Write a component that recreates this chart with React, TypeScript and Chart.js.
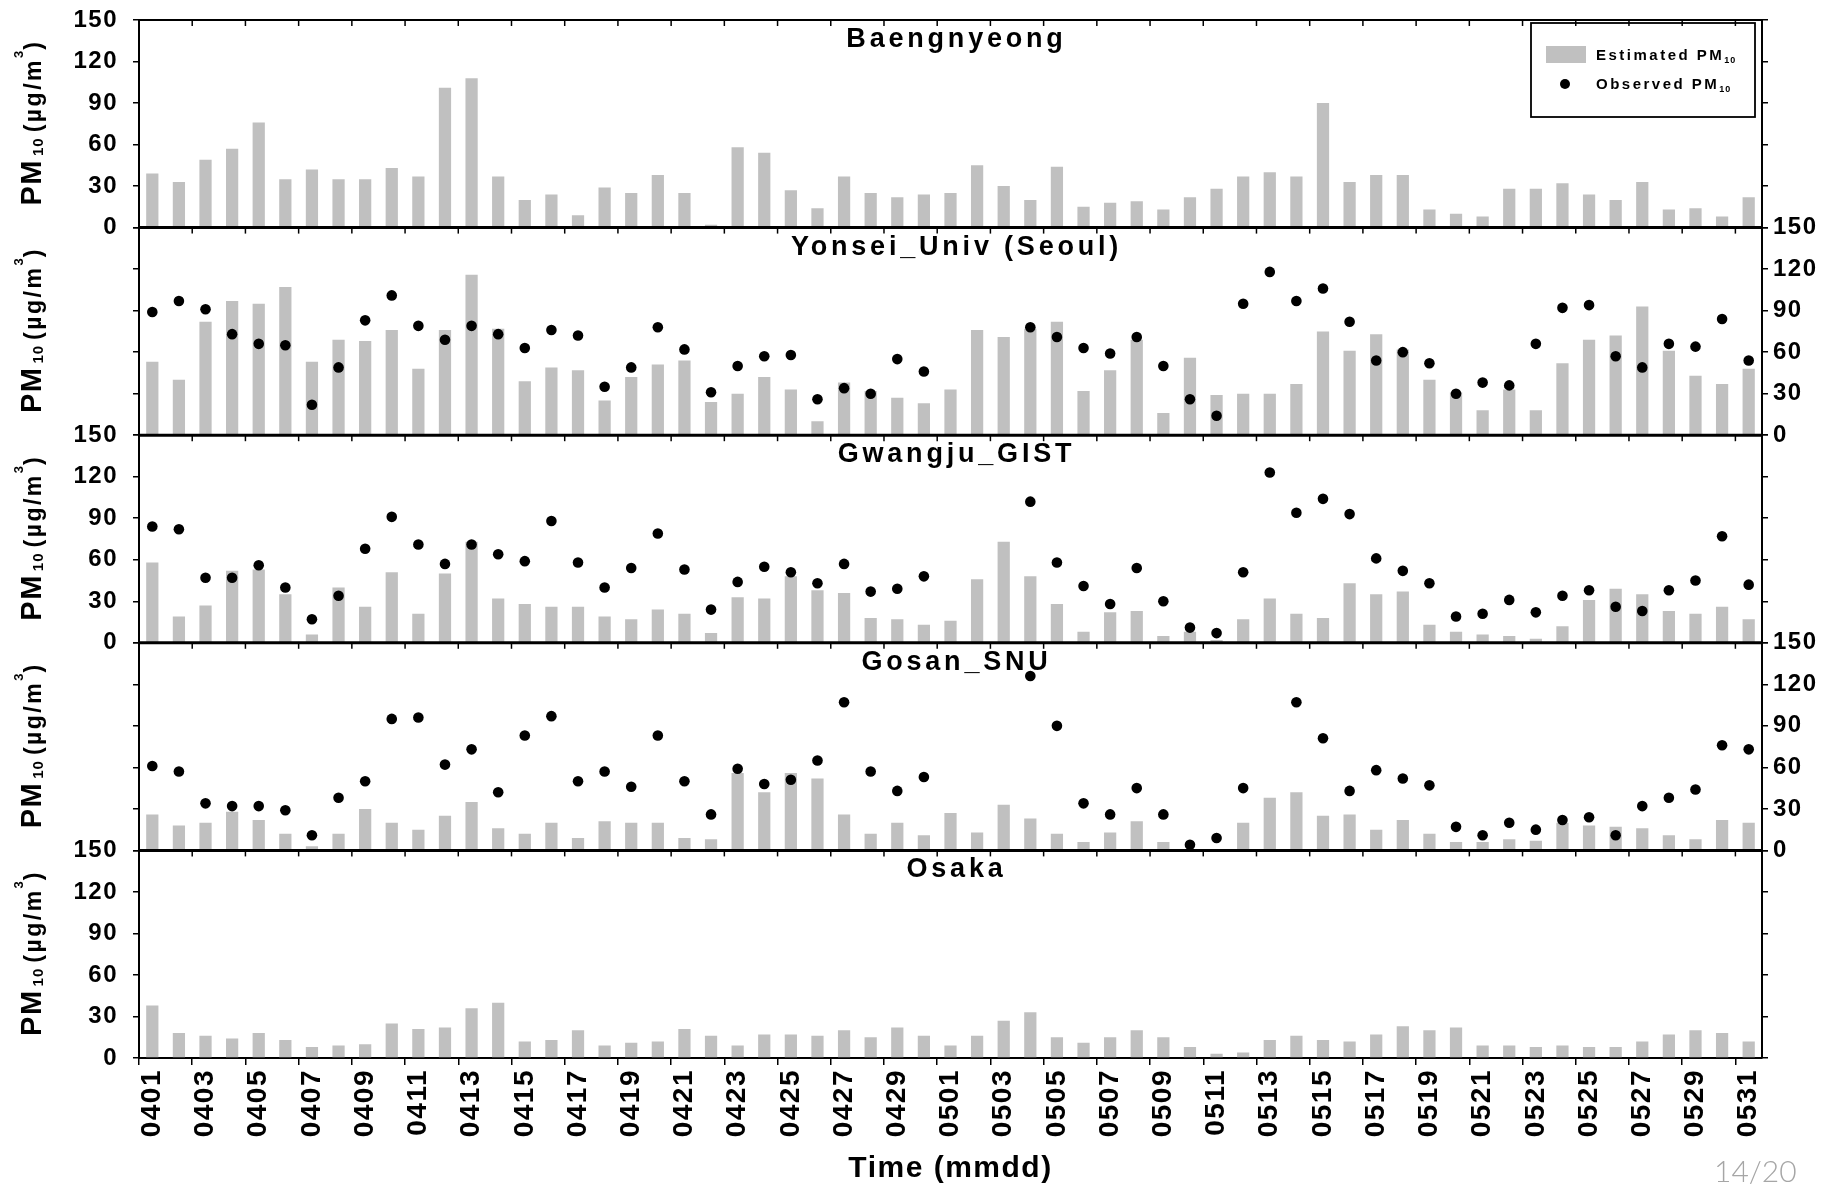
import React, { useEffect, useRef } from 'react';
import { Chart, registerables } from 'chart.js';

Chart.register(...registerables);

// ---------------- data ----------------
const dateLabels = [
  '0401', '0402', '0403', '0404', '0405', '0406', '0407', '0408', '0409', '0410',
  '0411', '0412', '0413', '0414', '0415', '0416', '0417', '0418', '0419', '0420',
  '0421', '0422', '0423', '0424', '0425', '0426', '0427', '0428', '0429', '0430',
  '0501', '0502', '0503', '0504', '0505', '0506', '0507', '0508', '0509', '0510',
  '0511', '0512', '0513', '0514', '0515', '0516', '0517', '0518', '0519', '0520',
  '0521', '0522', '0523', '0524', '0525', '0526', '0527', '0528', '0529', '0530',
  '0531',
];

const baengnyeongEstimated = [
  39, 33, 49, 57, 76, 35, 42, 35, 35, 43,
  37, 101, 108, 37, 20, 24, 9, 29, 25, 38,
  25, 2, 58, 54, 27, 14, 37, 25, 22, 24,
  25, 45, 30, 20, 44, 15, 18, 19, 13, 22,
  28, 37, 40, 37, 90, 33, 38, 38, 13, 10,
  8, 28, 28, 32, 24, 20, 33, 13, 14, 8,
  22,
];

const yonseiEstimated = [
  53, 40, 82, 97, 95, 107, 53, 69, 68, 76,
  48, 76, 116, 77, 39, 49, 47, 25, 42, 51,
  54, 24, 30, 42, 33, 10, 38, 32, 27, 23,
  33, 76, 71, 77, 82, 32, 47, 69, 16, 56,
  29, 30, 30, 37, 75, 61, 73, 62, 40, 31,
  18, 33, 18, 52, 69, 72, 93, 61, 43, 37,
  48,
];

const yonseiObserved = [
  89, 97, 91, 73, 66, 65, 22, 49, 83, 101,
  79, 69, 79, 73, 63, 76, 72, 35, 49, 78,
  62, 31, 50, 57, 58, 26, 34, 30, 55, 46,
  null, null, null, 78, 71, 63, 59, 71, 50, 26,
  14, 95, 118, 97, 106, 82, 54, 60, 52, 30,
  38, 36, 66, 92, 94, 57, 49, 66, 64, 84,
  54,
];

const gwangjuEstimated = [
  58, 19, 27, 52, 53, 35, 6, 40, 26, 51,
  21, 50, 73, 32, 28, 26, 26, 19, 17, 24,
  21, 7, 33, 32, 48, 38, 36, 18, 17, 13,
  16, 46, 73, 48, 28, 8, 22, 23, 5, 8,
  2, 17, 32, 21, 18, 43, 35, 37, 13, 8,
  6, 5, 3, 12, 31, 39, 35, 23, 21, 26,
  17,
];

const gwangjuObserved = [
  84, 82, 47, 47, 56, 40, 17, 34, 68, 91,
  71, 57, 71, 64, 59, 88, 58, 40, 54, 79,
  53, 24, 44, 55, 51, 43, 57, 37, 39, 48,
  null, null, null, 102, 58, 41, 28, 54, 30, 11,
  7, 51, 123, 94, 104, 93, 61, 52, 43, 19,
  21, 31, 22, 34, 38, 26, 23, 38, 45, 77,
  42,
];

const gosanEstimated = [
  26, 18, 20, 28, 22, 12, 3, 12, 30, 20,
  15, 25, 35, 16, 12, 20, 9, 21, 20, 20,
  9, 8, 56, 42, 56, 52, 26, 12, 20, 11,
  27, 13, 33, 23, 12, 6, 13, 21, 6, 1,
  1, 20, 38, 42, 25, 26, 15, 22, 12, 6,
  6, 8, 7, 20, 18, 17, 16, 11, 8, 22,
  20,
];

const gosanObserved = [
  61, 57, 34, 32, 32, 29, 11, 38, 50, 95,
  96, 62, 73, 42, 83, 97, 50, 57, 46, 83,
  50, 26, 59, 48, 51, 65, 107, 57, 43, 53,
  null, null, null, 126, 90, 34, 26, 45, 26, 4,
  9, 45, null, 107, 81, 43, 58, 52, 47, 17,
  11, 20, 15, 22, 24, 11, 32, 38, 44, 76,
  73,
];

const osakaEstimated = [
  38, 18, 16, 14, 18, 13, 8, 9, 10, 25,
  21, 22, 36, 40, 12, 13, 20, 9, 11, 12,
  21, 16, 9, 17, 17, 16, 20, 15, 22, 16,
  9, 16, 27, 33, 15, 11, 15, 20, 15, 8,
  3, 4, 13, 16, 13, 12, 17, 23, 20, 22,
  9, 9, 8, 9, 8, 8, 12, 17, 20, 18,
  12,
];

const panelTitles = ['Baengnyeong', 'Yonsei_Univ (Seoul)', 'Gwangju_GIST', 'Gosan_SNU', 'Osaka'];
const estimatedByPanel = [baengnyeongEstimated, yonseiEstimated, gwangjuEstimated, gosanEstimated, osakaEstimated];
const observedByPanel = [null, yonseiObserved, gwangjuObserved, gosanObserved, null];

const yMin = 0;
const yMax = 150;
const yStep = 30;
const xTitle = 'Time (mmdd)';
const legendEstimated = 'Estimated PM';
const legendObserved = 'Observed PM';
const pageNumber = '14/20';

const FONT = "'Liberation Sans', Arial, Helvetica, sans-serif";
const BAR_GRAY = '#c0c0c0';

// ---------------- drawing helpers ----------------
function line(ctx: CanvasRenderingContext2D, x1: number, y1: number, x2: number, y2: number) {
  ctx.beginPath();
  ctx.moveTo(x1, y1);
  ctx.lineTo(x2, y2);
  ctx.stroke();
}

function setFont(ctx: any, size: number, spacing: number) {
  ctx.font = `bold ${size}px ${FONT}`;
  ctx.letterSpacing = `${spacing}px`;
}

function drawYTitle(ctx: any, cx: number, cy: number) {
  const pieces = [
    { t: 'PM', size: 29, sp: 1.5, dy: 0, gap: 3 },
    { t: '10', size: 15, sp: 1, dy: 2, gap: 5 },
    { t: '(\u00b5g/m', size: 23, sp: 2.5, dy: 0, gap: 0 },
    { t: '3', size: 13, sp: 0, dy: -18, gap: 1 },
    { t: ')', size: 23, sp: 0, dy: 0, gap: 0 },
  ];
  let total = 0;
  const widths: number[] = [];
  for (const p of pieces) {
    setFont(ctx, p.size, p.sp);
    const w = ctx.measureText(p.t).width;
    widths.push(w);
    total += w + p.gap;
  }
  ctx.save();
  ctx.translate(cx, cy);
  ctx.rotate(-Math.PI / 2);
  ctx.textAlign = 'left';
  ctx.textBaseline = 'alphabetic';
  ctx.fillStyle = '#000';
  let x = -total / 2;
  pieces.forEach((p, i) => {
    setFont(ctx, p.size, p.sp);
    ctx.fillText(p.t, x, p.dy);
    x += widths[i] + p.gap;
  });
  ctx.restore();
}

const decorPlugin = {
  id: 'decor',
  beforeLayout(chart: any) {
    chart.ctx.letterSpacing = '1.5px';
  },
  beforeDraw(chart: any) {
    chart.ctx.letterSpacing = '1.5px';
  },
  afterDraw(chart: any) {
    const { ctx, chartArea } = chart;
    const xs = chart.scales.x;
    const half = (xs.getPixelForValue(1) - xs.getPixelForValue(0)) / 2;
    ctx.save();
    ctx.strokeStyle = '#000';
    ctx.fillStyle = '#000';

    for (let p = 0; p < panelTitles.length; p++) {
      const s = chart.scales['y' + p];
      // panel top frame line
      ctx.lineWidth = p === 0 ? 2 : 3;
      line(ctx, chartArea.left - 1, s.top, chartArea.right + 1, s.top);
      // inward tick marks along the top of each panel
      ctx.lineWidth = 1.5;
      for (let i = 2; i < dateLabels.length; i += 2) {
        const x = xs.getPixelForValue(i) - half;
        line(ctx, x, s.top, x, s.top + 6);
      }
      // panel title
      setFont(ctx, 27, 3.8);
      ctx.textAlign = 'center';
      ctx.textBaseline = 'alphabetic';
      ctx.fillText(panelTitles[p], (chartArea.left + chartArea.right) / 2 + 6, s.top + 27);
      // y axis title
      drawYTitle(ctx, 40.5, (s.top + s.bottom) / 2);
    }

    // legend in first panel
    const L = chartArea.right;
    const T = chartArea.top;
    ctx.lineWidth = 1.8;
    ctx.strokeRect(L - 231, T + 3, 224, 94);
    ctx.fillStyle = BAR_GRAY;
    ctx.fillRect(L - 216, T + 26, 40, 17);
    ctx.fillStyle = '#000';
    ctx.beginPath();
    ctx.arc(L - 197, T + 64, 5, 0, Math.PI * 2);
    ctx.fill();
    ctx.textAlign = 'left';
    ctx.textBaseline = 'alphabetic';
    const legendRows = [
      { t: legendEstimated, y: T + 40 },
      { t: legendObserved, y: T + 68.5 },
    ];
    for (const r of legendRows) {
      setFont(ctx, 15, 2.5);
      ctx.fillText(r.t, L - 166, r.y);
      const w = ctx.measureText(r.t).width;
      setFont(ctx, 9, 1);
      ctx.fillText('10', L - 166 + w, r.y + 3);
    }
    ctx.restore();
  },
};

function yAxis(position: 'left' | 'right', showLabels: boolean, weight: number) {
  return {
    type: 'linear',
    position,
    stack: 'panels',
    stackWeight: 1,
    weight,
    min: yMin,
    max: yMax,
    offset: false,
    ticks: {
      display: showLabels,
      autoSkip: false,
      stepSize: yStep,
      padding: position === 'left' ? 15 : 5,
      color: '#000',
      font: { family: FONT, size: 24, weight: 'bold' },
    },
    grid: {
      drawOnChartArea: false,
      drawTicks: true,
      tickLength: 6,
      lineWidth: 1.5,
      color: '#000',
    },
    border: { display: true, color: '#000', width: 2 },
    afterFit: (s: any) => {
      s.width = position === 'left' ? 139 : 75;
      s.paddingTop = 0;
      s.paddingBottom = 0;
    },
  };
}

export default function App() {
  const canvasRef = useRef<HTMLCanvasElement | null>(null);

  useEffect(() => {
    if (!canvasRef.current) return;
    Chart.defaults.font.family = FONT;

    const datasets: any[] = [];
    estimatedByPanel.forEach((est, p) => {
      datasets.push({
        type: 'bar',
        label: 'Estimated PM10 ' + panelTitles[p],
        data: est,
        yAxisID: 'y' + p,
        backgroundColor: BAR_GRAY,
        borderWidth: 0,
        barPercentage: 0.46,
        categoryPercentage: 1,
        grouped: false,
        order: 2,
      });
      const obs = observedByPanel[p];
      if (obs) {
        datasets.push({
          type: 'line',
          label: 'Observed PM10 ' + panelTitles[p],
          data: obs,
          yAxisID: 'y' + p,
          showLine: false,
          pointRadius: 5.3,
          pointBorderWidth: 0,
          pointBackgroundColor: '#000',
          pointBorderColor: '#000',
          borderColor: '#000',
          backgroundColor: '#000',
          order: 1,
        });
      }
    });

    const scales: any = {
      x: {
        type: 'category',
        labels: dateLabels,
        position: 'bottom',
        offset: true,
        grid: {
          offset: true,
          drawOnChartArea: false,
          drawTicks: true,
          tickLength: 7,
          lineWidth: 1.5,
          color: (c: any) => (c.index % 2 === 0 ? '#000' : 'rgba(0,0,0,0)'),
        },
        border: { display: true, color: '#000', width: 2 },
        ticks: {
          autoSkip: false,
          minRotation: 90,
          maxRotation: 90,
          padding: 4,
          color: '#000',
          font: { family: FONT, size: 28, weight: 'bold' },
          callback: (_v: any, i: number) => (i % 2 === 0 ? dateLabels[i] : ''),
        },
        title: {
          display: true,
          text: xTitle,
          color: '#000',
          font: { family: FONT, size: 30, weight: 'bold' },
          padding: { top: 0, bottom: 1 },
        },
        afterFit: (s: any) => {
          s.height = 130;
        },
      },
    };
    for (let p = 0; p < panelTitles.length; p++) {
      scales['y' + p] = yAxis('left', p % 2 === 0, 10 - p);
      scales['r' + p] = yAxis('right', p % 2 === 1, p);
    }

    const chart = new Chart(canvasRef.current, {
      type: 'bar',
      data: { labels: dateLabels, datasets },
      options: {
        animation: false,
        responsive: true,
        maintainAspectRatio: false,
        events: [],
        layout: { autoPadding: false, padding: { top: 20, left: 0, right: 0, bottom: 0 } },
        plugins: {
          legend: { display: false },
          tooltip: { enabled: false },
        },
        scales,
      } as any,
      plugins: [decorPlugin],
    } as any);

    return () => {
      chart.destroy();
    };
  }, []);

  return (
    <div style={{ position: 'fixed', left: 0, top: 0, width: 1837, height: 1188, background: '#fff' }}>
      <div style={{ position: 'relative', width: 1837, height: 1188 }}>
        <canvas ref={canvasRef} />
      </div>
      <div
        style={{
          position: 'absolute',
          left: 1714,
          top: 1152,
          fontFamily: "Lato, 'Open Sans', sans-serif",
          fontSize: 30,
          fontWeight: 300,
          color: '#a6a6a6',
          letterSpacing: 0,
        }}
      >
        {pageNumber}
      </div>
    </div>
  );
}
